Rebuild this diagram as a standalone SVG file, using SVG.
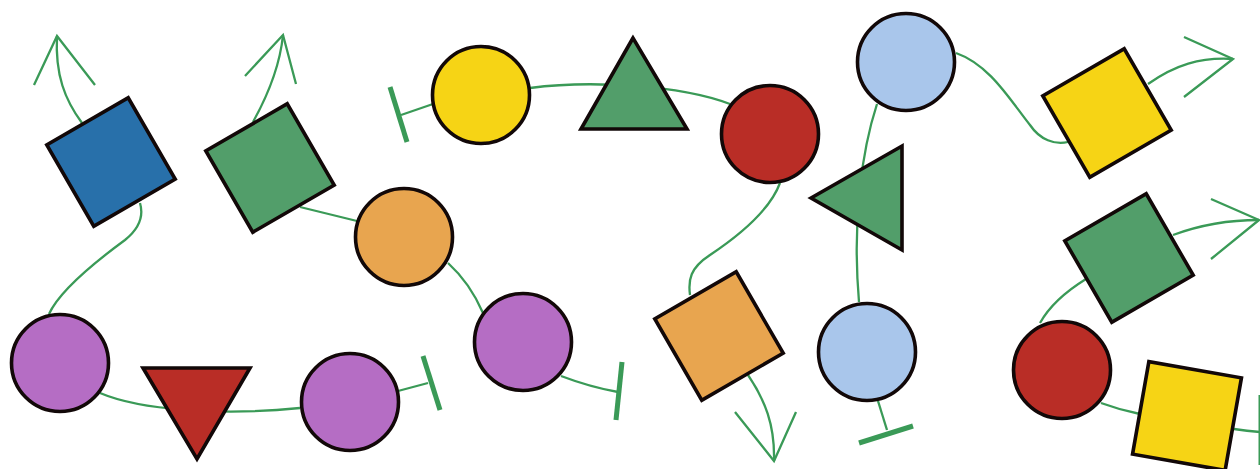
<svg xmlns="http://www.w3.org/2000/svg" width="1260" height="469" viewBox="0 0 1260 469">
<style>
.n{stroke:#120808;stroke-width:3.6;stroke-linejoin:miter}
.e{fill:none;stroke:#3a9a57;stroke-width:2.3}
.bar{fill:none;stroke:#3a9a57;stroke-width:5}
.blue{fill:#2870aa}.green{fill:#529e6a}.orange{fill:#e8a54f}.yellow{fill:#f6d415}
.red{fill:#b92d26}.purple{fill:#b56dc4}.lblue{fill:#a9c6eb}
</style>
<rect width="1260" height="469" fill="#ffffff"/>
<g id="connectors">
<path class="e" d="M82 123 C65 100 55 75 57 36"/>
<path class="e" d="M34 85 L57 36 L95 85"/>
<path class="e" d="M253 122 C268 95 280 65 283 35"/>
<path class="e" d="M245 76 L283 35 L296 84"/>
<path class="e" d="M140 203 C145 220 135 232 125 240 C95 262 60 290 49 314"/>
<path class="e" d="M100 393 C140 410 220 416 300 408"/>
<path class="e" d="M398 391 L428 383"/>
<path class="bar" d="M423 356 L440 410"/>
<path class="e" d="M300 207 L357 221"/>
<path class="e" d="M448 263 Q470 283 483 313"/>
<path class="e" d="M561 376 Q590 387 618 392"/>
<path class="bar" d="M622 362 L616 420"/>
<path class="e" d="M433 104 L401 115"/>
<path class="bar" d="M390 87 L407 142"/>
<path class="e" d="M530 88 C590 80 680 85 730 104"/>
<path class="e" d="M780 183 C770 210 740 235 710 255 C690 268 688 280 690 295"/>
<path class="e" d="M748 375 C765 400 775 425 774 461"/>
<path class="e" d="M735 412 L774 461 L796 412"/>
<path class="e" d="M877 104 C862 150 852 220 859 302"/>
<path class="e" d="M878 401 L887 430"/>
<path class="bar" d="M859 443 L913 426"/>
<path class="e" d="M956 53 C990 65 1010 100 1030 125 C1040 140 1055 145 1068 142"/>
<path class="e" d="M1148 84 C1175 65 1200 57 1233 59"/>
<path class="e" d="M1184 37 L1233 59 L1184 97"/>
<path class="e" d="M1173 235 C1200 225 1230 220 1259 220"/>
<path class="e" d="M1211 199 L1259 220 L1211 259"/>
<path class="e" d="M1040 323 C1050 305 1065 292 1086 279"/>
<path class="e" d="M1101 403 Q1120 410 1140 414"/>
<path class="e" d="M1234 429 Q1247 431 1260 432"/>
<path class="bar" d="M1261 395 L1261 465"/>
</g>
<g id="blueSquare"><rect class="n blue" x="-47" y="-47" width="94" height="94" transform="translate(111,162) rotate(-30)"/></g>
<g id="greenSquare1"><rect class="n green" x="-47" y="-47" width="94" height="94" transform="translate(270,168) rotate(-30)"/></g>
<g id="orangeCircle"><circle class="n orange" cx="404" cy="237" r="48.5"/></g>
<g id="yellowCircle"><circle class="n yellow" cx="481" cy="95" r="48.5"/></g>
<g id="greenTriangleUp"><polygon class="n green" points="633,38 581,129 687,129"/></g>
<g id="redCircle1"><circle class="n red" cx="770" cy="134" r="48.5"/></g>
<g id="lightBlueCircle1"><circle class="n lblue" cx="906" cy="62" r="48.5"/></g>
<g id="greenTriangleLeft"><polygon class="n green" points="811,198 902,146 902,250"/></g>
<g id="yellowSquare1"><rect class="n yellow" x="-47" y="-47" width="94" height="94" transform="translate(1107,113) rotate(-30)"/></g>
<g id="greenSquare2"><rect class="n green" x="-47" y="-47" width="94" height="94" transform="translate(1129,258) rotate(-30)"/></g>
<g id="redCircle2"><circle class="n red" cx="1062" cy="370" r="48.5"/></g>
<g id="yellowSquare2"><rect class="n yellow" x="-47" y="-47" width="94" height="94" transform="translate(1187,416) rotate(10)"/></g>
<g id="lightBlueCircle2"><circle class="n lblue" cx="867" cy="352" r="48.5"/></g>
<g id="orangeSquare"><rect class="n orange" x="-47" y="-47" width="94" height="94" transform="translate(719,336) rotate(-30)"/></g>
<g id="purpleCircle1"><circle class="n purple" cx="523" cy="342" r="48.5"/></g>
<g id="purpleCircle2"><circle class="n purple" cx="350" cy="402" r="48.5"/></g>
<g id="redTriangleDown"><polygon class="n red" points="143,368 250,368 197,459"/></g>
<g id="purpleCircle3"><circle class="n purple" cx="60" cy="363" r="48.5"/></g>
</svg>
